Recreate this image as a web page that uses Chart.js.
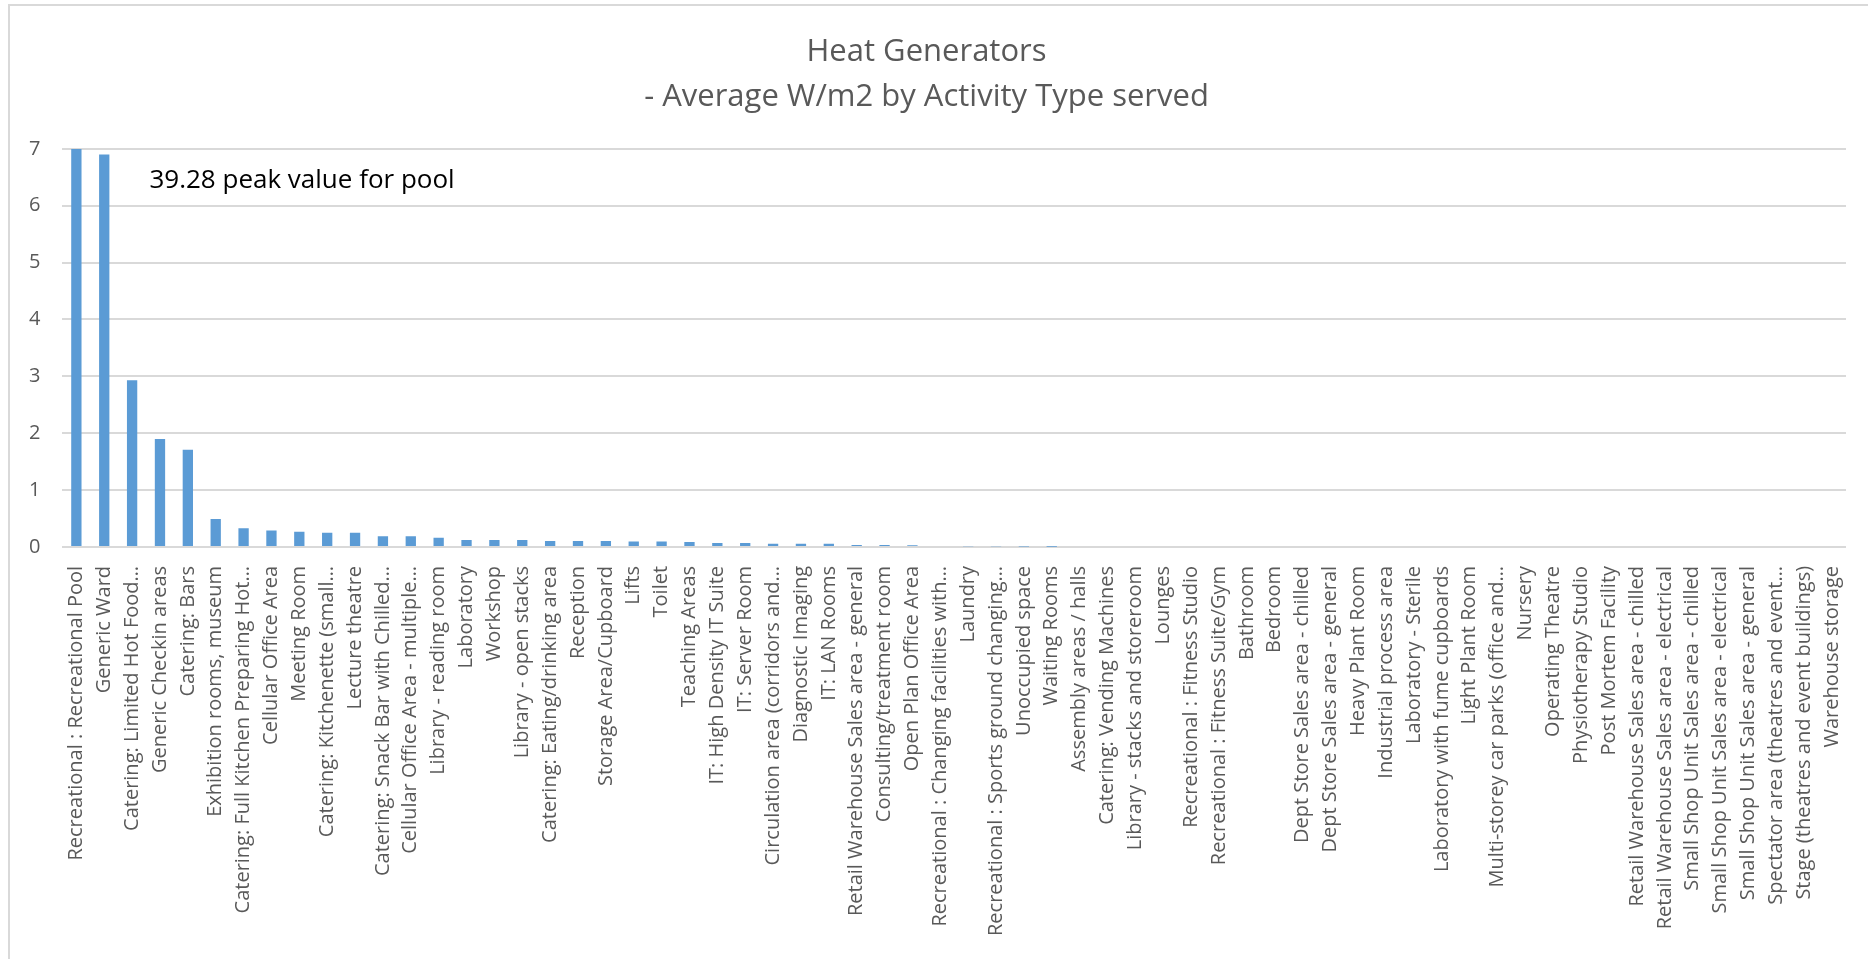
<!DOCTYPE html>
<html>
<head>
<meta charset="utf-8">
<title>Heat Generators</title>
<script src="https://cdn.jsdelivr.net/npm/chart.js@4/dist/chart.umd.min.js"></script>
<style>
    body { margin: 0; background: #fff; }
    #wrap { position: relative; width: 1868px; height: 959px; }
    #frame {
        position: absolute; left: 8px; top: 4px; right: -10px; bottom: -10px;
        border-left: 2px solid #d9d9d9; border-top: 2px solid #d9d9d9;
        pointer-events: none;
    }
</style>
</head>
<body>
<div id="wrap">
    <canvas id="heatChart"></canvas>
    <div id="frame"></div>
</div>
<script>
const titleLines = ['Heat Generators', '- Average W/m2 by Activity Type served'];
const peakNote = '39.28 peak value for pool';

const activities = [
    'Recreational : Recreational Pool',
    'Generic Ward',
    'Catering: Limited Hot Food…',
    'Generic Checkin areas',
    'Catering: Bars',
    'Exhibition rooms, museum',
    'Catering: Full Kitchen Preparing Hot…',
    'Cellular Office Area',
    'Meeting Room',
    'Catering: Kitchenette (small…',
    'Lecture theatre',
    'Catering: Snack Bar with Chilled…',
    'Cellular Office Area - multiple…',
    'Library - reading room',
    'Laboratory',
    'Workshop',
    'Library - open stacks',
    'Catering: Eating/drinking area',
    'Reception',
    'Storage Area/Cupboard',
    'Lifts',
    'Toilet',
    'Teaching Areas',
    'IT: High Density IT Suite',
    'IT: Server Room',
    'Circulation area (corridors and…',
    'Diagnostic Imaging',
    'IT: LAN Rooms',
    'Retail Warehouse Sales area - general',
    'Consulting/treatment room',
    'Open Plan Office Area',
    'Recreational : Changing facilities with…',
    'Laundry',
    'Recreational : Sports ground changing…',
    'Unoccupied space',
    'Waiting Rooms',
    'Assembly areas / halls',
    'Catering: Vending Machines',
    'Library - stacks and storeroom',
    'Lounges',
    'Recreational : Fitness Studio',
    'Recreational : Fitness Suite/Gym',
    'Bathroom',
    'Bedroom',
    'Dept Store Sales area - chilled',
    'Dept Store Sales area - general',
    'Heavy Plant Room',
    'Industrial process area',
    'Laboratory - Sterile',
    'Laboratory with fume cupboards',
    'Light Plant Room',
    'Multi-storey car parks (office and…',
    'Nursery',
    'Operating Theatre',
    'Physiotherapy Studio',
    'Post Mortem Facility',
    'Retail Warehouse Sales area - chilled',
    'Retail Warehouse Sales area - electrical',
    'Small Shop Unit Sales area - chilled',
    'Small Shop Unit Sales area - electrical',
    'Small Shop Unit Sales area - general',
    'Spectator area (theatres and event…',
    'Stage (theatres and event buildings)',
    'Warehouse storage'
];

// average W/m2 (pool runs off the top of the axis)
const avgWm2 = [
    39.28, 6.9, 2.93, 1.9, 1.71, 0.49, 0.33, 0.29, 0.265, 0.25,
    0.25, 0.19, 0.19, 0.16, 0.12, 0.12, 0.12, 0.105, 0.105, 0.105,
    0.095, 0.095, 0.085, 0.07, 0.07, 0.058, 0.058, 0.058, 0.035, 0.035,
    0.03, 0.018, 0.012, 0.01, 0.008, 0.005, 0, 0, 0, 0,
    0, 0, 0, 0, 0, 0, 0, 0, 0, 0,
    0, 0, 0, 0, 0, 0, 0, 0, 0, 0,
    0, 0, 0, 0
];

const yTicks = [0, 1, 2, 3, 4, 5, 6, 7];

// writes the note about the clipped pool bar
const notePlugin = {
    id: 'peakNote',
    afterDraw(chart) {
        const { ctx, chartArea, scales } = chart;
        ctx.save();
        ctx.font = '26px "Open Sans"';
        ctx.fillStyle = '#000';
        ctx.textBaseline = 'middle';
        ctx.fillText(peakNote, chartArea.left + 87, scales.y.getPixelForValue(6.45));
        ctx.restore();
    }
};

const ctx = document.getElementById('heatChart').getContext('2d');
new Chart(ctx, {
    type: 'bar',
    data: {
        labels: activities,
        datasets: [{
            label: 'Average W/m2',
            data: avgWm2,
            backgroundColor: '#5b9bd5',
            barPercentage: 0.37,
            categoryPercentage: 1
        }]
    },
    options: {
        responsive: true,
        maintainAspectRatio: false,
        animation: false,
        layout: {
            padding: { left: 7, right: 22, top: 0, bottom: 12 }
        },
        plugins: {
            legend: { display: false },
            tooltip: { enabled: false },
            title: {
                display: true,
                text: titleLines,
                color: '#595959',
                font: { family: 'Open Sans', size: 31, weight: 'normal', lineHeight: 1.45 },
                padding: { top: 30, bottom: 29 }
            }
        },
        scales: {
            x: {
                grid: { display: false },
                border: { display: false },
                ticks: {
                    autoSkip: false,
                    minRotation: 90,
                    maxRotation: 90,
                    padding: 11,
                    color: '#595959',
                    font: { family: 'Open Sans', size: 20 }
                }
            },
            y: {
                min: 0,
                max: yTicks[yTicks.length - 1],
                afterBuildTicks: function(axis) {
                    axis.ticks = yTicks.map(v => ({ value: v }));
                },
                border: { display: false },
                grid: { color: '#d9d9d9', lineWidth: 2, drawTicks: false },
                ticks: {
                    padding: 22,
                    color: '#595959',
                    font: { family: 'Open Sans', size: 20 }
                }
            }
        }
    },
    plugins: [notePlugin]
});
</script>
</body>
</html>
